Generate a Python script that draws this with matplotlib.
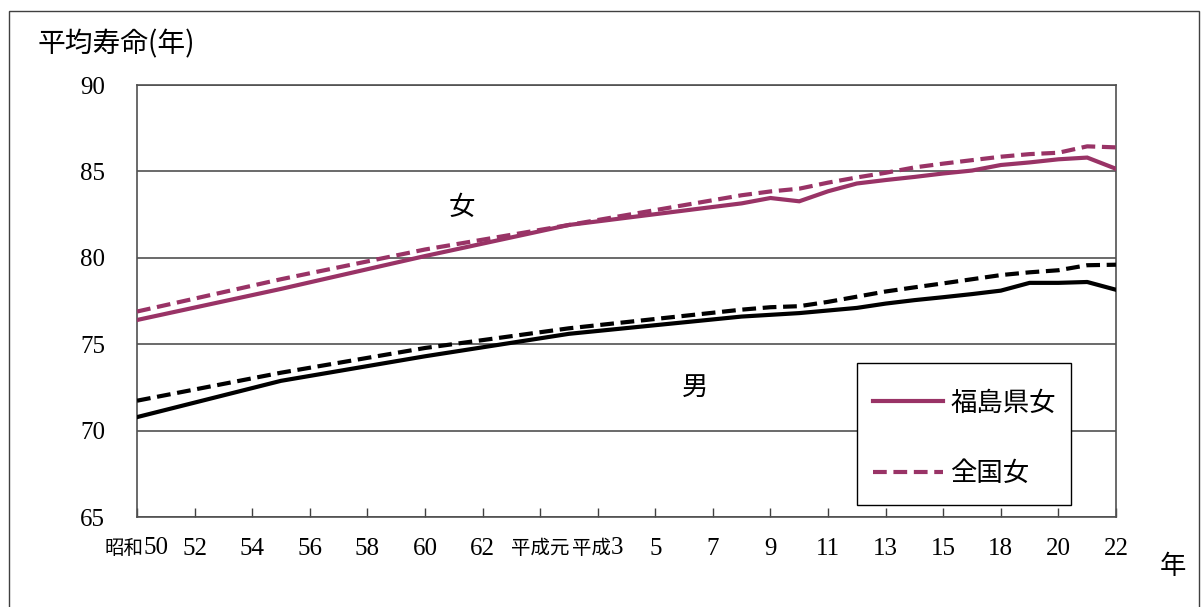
import matplotlib
matplotlib.use("Agg")
import matplotlib.pyplot as plt
from matplotlib.patches import Rectangle

plt.rcParams['font.family'] = ['Liberation Serif', 'Noto Sans CJK JP', 'DejaVu Sans']

# ---- data -------------------------------------------------------------
categories = (['昭和50'] + [str(n) for n in range(51, 64)] +
              ['平成元'] + [str(n) for n in range(2, 17)] +
              [str(n) for n in range(18, 23)])
tick_labels = ['昭和50', '52', '54', '56', '58', '60', '62', '平成元', '平成3',
               '5', '7', '9', '11', '13', '15', '18', '20', '22']

# categories that have data (others are blank and the line is connected)
data_cats = ['昭和50', '55', '60', '2', '8', '9', '10', '11', '12', '13', '14',
             '15', '16', '18', '19', '20', '21', '22']
fukushima_female = [76.4, 78.2, 80.1, 81.9, 83.15, 83.46, 83.27, 83.85, 84.3,
                    84.5, 84.68, 84.88, 85.05, 85.37, 85.52, 85.7, 85.8, 85.15]
national_female = [76.89, 78.76, 80.48, 81.90, 83.62, 83.84, 84.0, 84.35, 84.65,
                   84.92, 85.23, 85.45, 85.65, 85.85, 86.0, 86.08, 86.45, 86.39]
fukushima_male = [70.78, 72.88, 74.3, 75.6, 76.6, 76.7, 76.8, 76.95, 77.1,
                  77.35, 77.55, 77.72, 77.9, 78.1, 78.55, 78.55, 78.6, 78.15]
national_male = [71.73, 73.35, 74.78, 75.92, 77.0, 77.14, 77.2, 77.45, 77.75,
                 78.05, 78.29, 78.52, 78.76, 79.0, 79.16, 79.28, 79.57, 79.6]

# ---- positions of data categories --------------------------------------
data_x = []
pos = 0
for lab in data_cats:
    i = categories.index(lab, pos)
    data_x.append(i)
    pos = i + 1

tick_pos = list(range(0, len(categories), 2))

# ---- figure -----------------------------------------------------------
W, H = 1202, 607
fig = plt.figure(figsize=(W / 100, H / 100), dpi=100)
fig.patch.set_facecolor('white')
fig.patches.append(Rectangle((9 / W, -0.05), (1199 - 9) / W, 1.05 - 11 / H,
                             transform=fig.transFigure, fill=False,
                             edgecolor='#404040', linewidth=1.0))

L, R, T, B = 137, 1116, 85, 517
ax = fig.add_axes([L / W, 1 - B / H, (R - L) / W, (B - T) / H])

plum = '#993366'
lw = 3.0
ax.plot(data_x, fukushima_female, color=plum, lw=lw, solid_joinstyle='miter',
        label='福島県女', zorder=4)
ax.plot(data_x, national_female, color=plum, lw=lw, dashes=(3.3, 1.6),
        dash_capstyle='butt', label='全国女', zorder=4)
ax.plot(data_x, fukushima_male, color='black', lw=lw, zorder=4)
ax.plot(data_x, national_male, color='black', lw=lw, dashes=(3.3, 1.6),
        dash_capstyle='butt', zorder=4)

ax.set_xlim(0, len(categories) - 1)
ax.set_ylim(65, 90)
ax.set_yticks([65, 70, 75, 80, 85, 90])
ax.yaxis.grid(True, color='#505050', linewidth=1.2)
ax.set_axisbelow(True)
ax.tick_params(axis='y', length=0, pad=23, labelsize=18)

# x tick labels: digits in normal size, kanji era names condensed (smaller)
ax.set_xticks(tick_pos)
ax.set_xticklabels(['' if not lab.isdigit() else lab for lab in tick_labels])
ax.tick_params(axis='x', direction='in', length=6.5, width=1.0, pad=15,
               labelsize=18, color='#404040')
cjk = ['Noto Sans CJK JP', 'DejaVu Sans']
px = 0.72  # points per pixel at dpi 100
kfs = 14
kanji_px = kfs * 100 / 72
digit_px = 18 * 100 / 72 * 0.5
for xp, lab in zip(tick_pos, tick_labels):
    if lab.isdigit():
        continue
    pre = ''.join(c for c in lab if not c.isdigit())
    num = ''.join(c for c in lab if c.isdigit())
    total = len(pre) * kanji_px + len(num) * digit_px
    split = -total / 2 + len(pre) * kanji_px
    ax.annotate(pre, xy=(xp, 0), xycoords=('data', 'axes fraction'),
                xytext=(split * px, -31 * px), textcoords='offset points',
                ha='right', va='center', family=cjk, fontsize=kfs)
    if num:
        ax.annotate(num, xy=(xp, 0), xycoords=('data', 'axes fraction'),
                    xytext=(split * px, -31 * px), textcoords='offset points',
                    ha='left', va='center', fontsize=18)

for s in ax.spines.values():
    s.set_color('#505050')
    s.set_linewidth(1.2)

# annotations
fig.text(38 / W, 1 - 44 / H, '平均寿命(年)', family=cjk, fontsize=20,
         ha='left', va='center')
fig.text(1173 / W, 1 - 567 / H, '年', family=cjk, fontsize=19,
         ha='center', va='center')
fig.text(462 / W, 1 - 207 / H, '女', family=cjk, fontsize=19,
         ha='center', va='center')
fig.text(695 / W, 1 - 387 / H, '男', family=cjk, fontsize=19,
         ha='center', va='center')

# legend (frame drawn as a box, entries placed inside)
ax.add_patch(Rectangle((857 / W, 1 - 505 / H), (1071 - 857) / W,
                       (505 - 363) / H, transform=fig.transFigure,
                       facecolor='white', edgecolor='black',
                       linewidth=1.0, zorder=9, clip_on=False))
leg = ax.legend(loc='upper left', bbox_to_anchor=(873 / W, 1 - 389.5 / H),
                bbox_transform=fig.transFigure, borderaxespad=0,
                prop={'family': cjk, 'size': 19}, frameon=False,
                handlelength=2.65, handletextpad=0.27, labelspacing=1.65,
                borderpad=0)
leg.set_zorder(10)

fig.savefig('out.png', dpi=100)
